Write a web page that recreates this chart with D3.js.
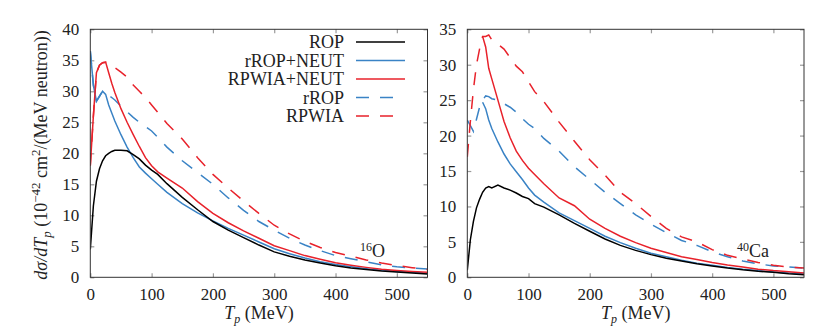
<!DOCTYPE html>
<html>
<head>
<meta charset="utf-8">
<script src="https://cdnjs.cloudflare.com/ajax/libs/d3/7.8.5/d3.min.js"></script>
<style>
  body { margin: 0; background: #fff; }
  text { font-family: "Liberation Serif", serif; fill: #222; }
</style>
</head>
<body>
<div id="chart"></div>
<script>
// kinetic energy grid (MeV)
var tGrid = [0,5,10,15,20,25,30,35,40,50,60,70,80,90,100,110,125,150,175,200,225,250,275,300,325,350,375,400,425,450,475,500,525,550];

// 16O curves
var o16Rop       = [4.5,11.5,15.5,17.5,18.8,19.6,20.0,20.3,20.5,20.5,20.4,19.8,19.1,18.1,17.3,16.6,15.1,12.9,10.9,9.0,7.6,6.4,5.2,4.1,3.4,2.8,2.3,1.85,1.5,1.25,1.0,0.85,0.7,0.55];
var o16RropNeut  = [36.5,31,28.4,29.2,30.0,29.5,27.8,26.5,25.2,23.0,21.0,19.3,17.8,16.8,15.9,15.0,13.7,11.9,10.4,9.1,7.9,6.8,5.7,4.6,3.8,3.1,2.5,2.05,1.7,1.4,1.15,0.95,0.8,0.65];
var o16RpwiaNeut = [18,26,33,34.2,34.6,34.7,33.0,31.3,29.8,27.2,25.0,23.0,21.1,19.3,18.0,17.0,16.0,14.4,12.2,10.3,8.8,7.5,6.3,5.1,4.3,3.5,2.9,2.35,1.95,1.6,1.3,1.1,0.95,0.8];
var o16Rrop      = [36.5,31,28.4,29.2,30.0,29.8,29.3,29.0,28.6,27.6,26.7,25.8,25.0,24.3,23.6,22.6,21.0,18.8,16.9,15.0,12.8,10.8,9.0,7.6,6.3,5.2,4.3,3.5,3.0,2.5,2.0,1.7,1.5,1.35];
var o16Rpwia     = [18,26,33,34.2,34.6,34.7,34.5,34.2,33.8,33.1,32.3,31.0,30.0,29.0,27.8,26.6,24.8,22.3,19.3,16.6,14.4,12.3,10.3,8.4,7.0,5.8,4.8,4.0,3.4,2.8,2.3,1.9,1.55,1.25];

// 40Ca curves
var ca40Rop       = [1.0,5.3,7.9,9.8,11.0,12.0,12.6,12.8,12.6,13.0,12.6,12.3,11.9,11.4,11.1,10.4,9.9,8.8,7.6,6.5,5.4,4.5,3.8,3.2,2.7,2.3,1.9,1.6,1.3,1.05,0.85,0.7,0.5,0.35];
var ca40RropNeut  = [null,null,null,null,null,24.7,23.8,22.2,21.0,19.1,17.4,16.0,14.9,13.8,12.6,11.6,10.6,9.1,8.0,6.9,5.8,4.9,4.1,3.4,2.9,2.4,2.0,1.7,1.4,1.15,0.95,0.75,0.6,0.45];
var ca40RpwiaNeut = [null,null,null,null,null,34.0,32.5,29.5,28.0,25.0,22.0,19.7,17.8,16.5,15.4,14.5,13.2,11.2,10.1,8.2,6.9,5.8,4.9,4.1,3.5,2.9,2.5,2.1,1.75,1.45,1.15,0.95,0.8,0.6];
var ca40Rrop      = [22.2,21.4,20.6,22.3,24.0,25.0,25.6,25.5,25.2,25.0,24.5,24.0,23.3,22.4,21.6,21.0,19.6,17.8,15.6,13.8,12.0,10.4,8.8,7.5,6.3,5.2,4.5,3.6,2.9,2.3,1.9,1.6,1.45,1.3];
var ca40Rpwia     = [17,22,26.5,30,32.2,34.0,34.0,34.2,33.5,32.9,32.2,31.0,29.8,29.0,27.6,26.2,24.8,21.9,19.2,16.6,14.4,12.0,10.4,8.6,6.9,5.7,5.0,3.9,3.1,2.6,2.1,1.7,1.45,1.3];

// legend names and ticks
var seriesNames = ["ROP", "rROP+NEUT", "RPWIA+NEUT", "rROP", "RPWIA"];
var xTicks = [0,100,200,300,400,500];
var yTicksO16 = [0,5,10,15,20,25,30,35,40];
var yTicksCa40 = [0,5,10,15,20,25,30,35];

var colours = ["#000000", "#3a83c5", "#e8222b", "#3a83c5", "#e8222b"];
var dashes = [null, null, null, "13,11", "13,11"];

var svg = d3.select("#chart").append("svg")
  .attr("width", 830)
  .attr("height", 330);

var plotTop = 29.3, plotBottom = 277.3;

function drawPanel(id, left, right, yMax, yTicks, curves, nucleusMass, nucleusName, labelX, showLegend) {
  var x = d3.scaleLinear().domain([0, 550]).range([left, right]);
  var y = d3.scaleLinear().domain([0, yMax]).range([plotBottom, plotTop]);

  svg.append("clipPath").attr("id", "clip-" + id)
    .append("rect")
    .attr("x", left).attr("y", plotTop)
    .attr("width", right - left).attr("height", plotBottom - plotTop);

  // ticks on all four sides, pointing inward
  var gx = svg.append("g").attr("transform", "translate(0," + plotBottom + ")")
    .call(d3.axisBottom(x).tickValues(xTicks).tickSizeInner(-4).tickSizeOuter(0).tickPadding(11));
  var gxTop = svg.append("g").attr("transform", "translate(0," + plotTop + ")")
    .call(d3.axisTop(x).tickValues(xTicks).tickSizeInner(-4).tickSizeOuter(0).tickFormat(""));
  var gy = svg.append("g").attr("transform", "translate(" + left + ",0)")
    .call(d3.axisLeft(y).tickValues(yTicks).tickSizeInner(-4).tickSizeOuter(0).tickPadding(11));
  var gyRight = svg.append("g").attr("transform", "translate(" + right + ",0)")
    .call(d3.axisRight(y).tickValues(yTicks).tickSizeInner(-4).tickSizeOuter(0).tickFormat(""));

  [gx, gxTop, gy, gyRight].forEach(function(g) {
    g.select(".domain").remove();
    g.selectAll(".tick line").attr("stroke", "#9a9a9a").attr("stroke-width", 1.2);
    g.selectAll(".tick text").attr("font-size", 17).attr("font-family", "Liberation Serif").attr("fill", "#222");
  });

  var line = d3.line()
    .defined(function(d) { return d[1] != null; })
    .x(function(d) { return x(d[0]); })
    .y(function(d) { return y(d[1]); });

  var plot = svg.append("g").attr("clip-path", "url(#clip-" + id + ")");
  // draw dashed first, then solid on top
  [3, 4, 1, 2, 0].forEach(function(i) {
    var pts = tGrid.map(function(t, k) { return [t, curves[i][k]]; });
    plot.append("path")
      .datum(pts)
      .attr("fill", "none")
      .attr("stroke", colours[i])
      .attr("stroke-width", 1.5)
      .attr("stroke-dasharray", dashes[i])
      .attr("d", line);
  });

  // frame
  svg.append("rect")
    .attr("x", left).attr("y", plotTop)
    .attr("width", right - left).attr("height", plotBottom - plotTop)
    .attr("fill", "none")
    .attr("stroke", "#333")
    .attr("stroke-width", 1);

  // nucleus label
  var nl = svg.append("text")
    .attr("x", labelX).attr("y", 257)
    .attr("font-size", 18);
  nl.append("tspan").attr("font-size", 12).attr("dy", -6).text(nucleusMass);
  nl.append("tspan").attr("dy", 6).text(nucleusName);

  // x axis title
  var xt = svg.append("text")
    .attr("x", (left + right) / 2).attr("y", 319)
    .attr("text-anchor", "middle")
    .attr("font-size", 18);
  xt.append("tspan").attr("font-style", "italic").text("T");
  xt.append("tspan").attr("font-style", "italic").attr("font-size", 12).attr("dy", 4).text("p");
  xt.append("tspan").attr("dy", -4).text(" (MeV)");

  if (showLegend) {
    var rowY = [42, 60.5, 79, 97.5, 116];
    seriesNames.forEach(function(name, i) {
      svg.append("text")
        .attr("x", 344).attr("y", rowY[i] + 6)
        .attr("text-anchor", "end")
        .attr("font-size", 18)
        .text(name);
      // dashed samples stop after two dashes, like the original key
      svg.append("line")
        .attr("x1", 356).attr("x2", dashes[i] ? 393 : 405)
        .attr("y1", rowY[i]).attr("y2", rowY[i])
        .attr("stroke", colours[i])
        .attr("stroke-width", 1.5)
        .attr("stroke-dasharray", dashes[i]);
    });
  }
}

drawPanel("o16", 90.3, 427.5, 40, yTicksO16,
  [o16Rop, o16RropNeut, o16RpwiaNeut, o16Rrop, o16Rpwia], "16", "O", 360, true);
drawPanel("ca40", 467.3, 804, 35, yTicksCa40,
  [ca40Rop, ca40RropNeut, ca40RpwiaNeut, ca40Rrop, ca40Rpwia], "40", "Ca", 737, false);

// y axis title (rotated)
var yt = svg.append("text")
  .attr("transform", "translate(47,155) rotate(-90)")
  .attr("text-anchor", "middle")
  .attr("font-size", 18);
yt.append("tspan").attr("font-style", "italic").text("dσ/dT");
yt.append("tspan").attr("font-style", "italic").attr("font-size", 13).attr("dy", 4).text("p");
yt.append("tspan").attr("dy", -4).text(" (10");
yt.append("tspan").attr("font-size", 13).attr("dy", -7).text("−42");
yt.append("tspan").attr("dy", 7).text(" cm");
yt.append("tspan").attr("font-size", 13).attr("dy", -7).text("2");
yt.append("tspan").attr("dy", 7).text("/(MeV neutron))");
</script>
</body>
</html>
